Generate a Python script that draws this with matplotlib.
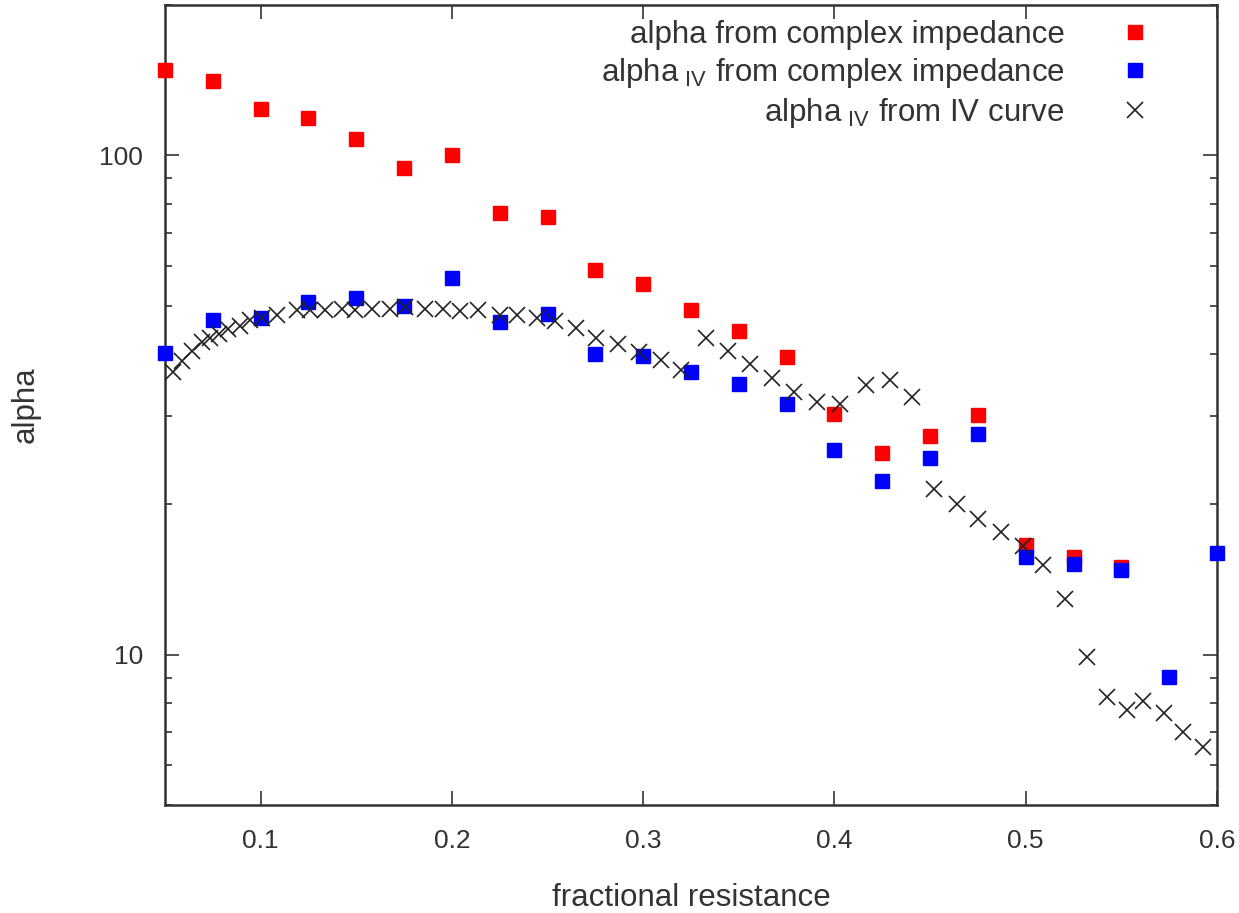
import matplotlib
matplotlib.use('Agg')
import matplotlib.pyplot as plt
from matplotlib.ticker import LogLocator, NullFormatter, FixedLocator

plt.rcParams['font.family'] = ['Liberation Sans', 'DejaVu Sans']
plt.rcParams['mathtext.fontset'] = 'custom'
plt.rcParams['mathtext.rm'] = 'Liberation Sans'

# alpha from complex impedance
x_red = [0.05, 0.075, 0.1, 0.125, 0.15, 0.175, 0.2, 0.225, 0.25, 0.275, 0.3,
         0.325, 0.35, 0.375, 0.4, 0.425, 0.45, 0.475, 0.5, 0.525, 0.55]
y_red = [148, 141, 124, 118.6, 108, 94.2, 100, 76.8, 75.4, 58.8, 55.3,
         49.1, 44.5, 39.5, 30.3, 25.4, 27.4, 30.2, 16.6, 15.7, 15.0]

# alpha_IV from complex impedance
x_blue = [0.05, 0.075, 0.1, 0.125, 0.15, 0.175, 0.2, 0.225, 0.25, 0.275, 0.3,
          0.325, 0.35, 0.375, 0.4, 0.425, 0.45, 0.475, 0.5, 0.525, 0.55,
          0.575, 0.6]
y_blue = [40.2, 46.9, 47.3, 50.9, 51.9, 50.0, 56.9, 46.4, 48.2, 40.0, 39.7,
          36.8, 34.8, 31.8, 25.7, 22.3, 24.8, 27.7, 15.7, 15.2, 14.75,
          9.02, 16.0]

# alpha_IV from IV curve
x_iv = [0.0540, 0.0587, 0.0640, 0.0693, 0.0735, 0.0784, 0.0831, 0.0892,
        0.0944, 0.1006, 0.1084, 0.1189, 0.1258, 0.1337, 0.1424, 0.1493,
        0.1581, 0.1676, 0.1755, 0.1859, 0.1955, 0.2042, 0.2138, 0.2251,
        0.2339, 0.2443, 0.2539, 0.2649, 0.2753, 0.2870, 0.2980, 0.3092,
        0.3198, 0.3329, 0.3445, 0.3559, 0.3672, 0.3790, 0.3907, 0.4029,
        0.4165, 0.4290, 0.4406, 0.4522, 0.4639, 0.4752, 0.4869, 0.4984,
        0.5089, 0.5203, 0.5319, 0.5423, 0.5528, 0.5612, 0.5725, 0.5824,
        0.5925]
y_iv = [36.8, 38.8, 40.6, 42.3, 43.1, 43.9, 44.8, 45.6,
        46.7, 47.2, 47.9, 48.9, 48.9, 48.9, 49.3, 49.1,
        49.3, 49.3, 49.7, 49.3, 49.3, 48.8, 48.9, 47.8,
        47.8, 47.2, 46.5, 45.1, 43.0, 41.9, 40.4, 39.0,
        37.2, 43.0, 40.6, 38.2, 35.8, 33.6, 32.1, 31.8,
        34.6, 35.5, 32.8, 21.5, 20.0, 18.7, 17.6, 16.5,
        15.1, 12.9, 9.9, 8.22, 7.75, 8.06, 7.64, 7.01,
        6.53]

xticks = [0.1, 0.2, 0.3, 0.4, 0.5, 0.6]
txt = '#333333'

fig = plt.figure(figsize=(12.39, 9.13), dpi=100)
ax = fig.add_axes([0.1332, 0.1183, 0.8490, 0.8762])

ax.plot(x_red, y_red, ls='none', marker='s', ms=10, color='#ff0000',
        mec='#ff0000', label='alpha from complex impedance', clip_on=False, zorder=3)
ax.plot(x_blue, y_blue, ls='none', marker='s', ms=10, color='#0000ff',
        mec='#0000ff', label=r'alpha$_{\ \mathrm{IV}}$ from complex impedance',
        clip_on=False, zorder=4)
ax.plot(x_iv, y_iv, ls='none', marker='x', ms=11, mew=1.2, color='#222222',
        label=r'alpha$_{\ \mathrm{IV}}$ from IV curve', clip_on=False, zorder=5)

ax.set_yscale('log')
ax.set_xlim(0.05, 0.6)
ax.set_ylim(5, 200)
ax.xaxis.set_major_locator(FixedLocator(xticks))
ax.set_xticklabels([str(t) for t in xticks])
ax.yaxis.set_major_locator(FixedLocator([10, 100]))
ax.set_yticklabels(['10', '100'])
ax.yaxis.set_minor_locator(LogLocator(base=10, subs=range(2, 10)))
ax.yaxis.set_minor_formatter(NullFormatter())

ax.tick_params(which='both', direction='in', top=True, right=True,
               colors=txt, labelsize=19, width=1.2)
ax.tick_params(which='major', length=10, pad=16)
ax.tick_params(which='minor', length=5)
ax.tick_params(axis='x', pad=17)
for s in ax.spines.values():
    s.set_linewidth(1.8)
    s.set_color(txt)

ax.set_xlabel('fractional resistance', fontsize=22.5, color=txt, labelpad=22)
ax.set_ylabel('alpha', fontsize=22.5, color=txt, labelpad=42)

leg = ax.legend(loc='upper right', frameon=False, markerfirst=False,
                fontsize=22.5, handletextpad=1.6, labelspacing=0.2,
                borderaxespad=0.3, handlelength=1.3, bbox_to_anchor=(0.962, 1.009))
for t in leg.get_texts():
    t.set_color(txt)
    t.set_ha('right')

fig.savefig('out.png', dpi=100)
